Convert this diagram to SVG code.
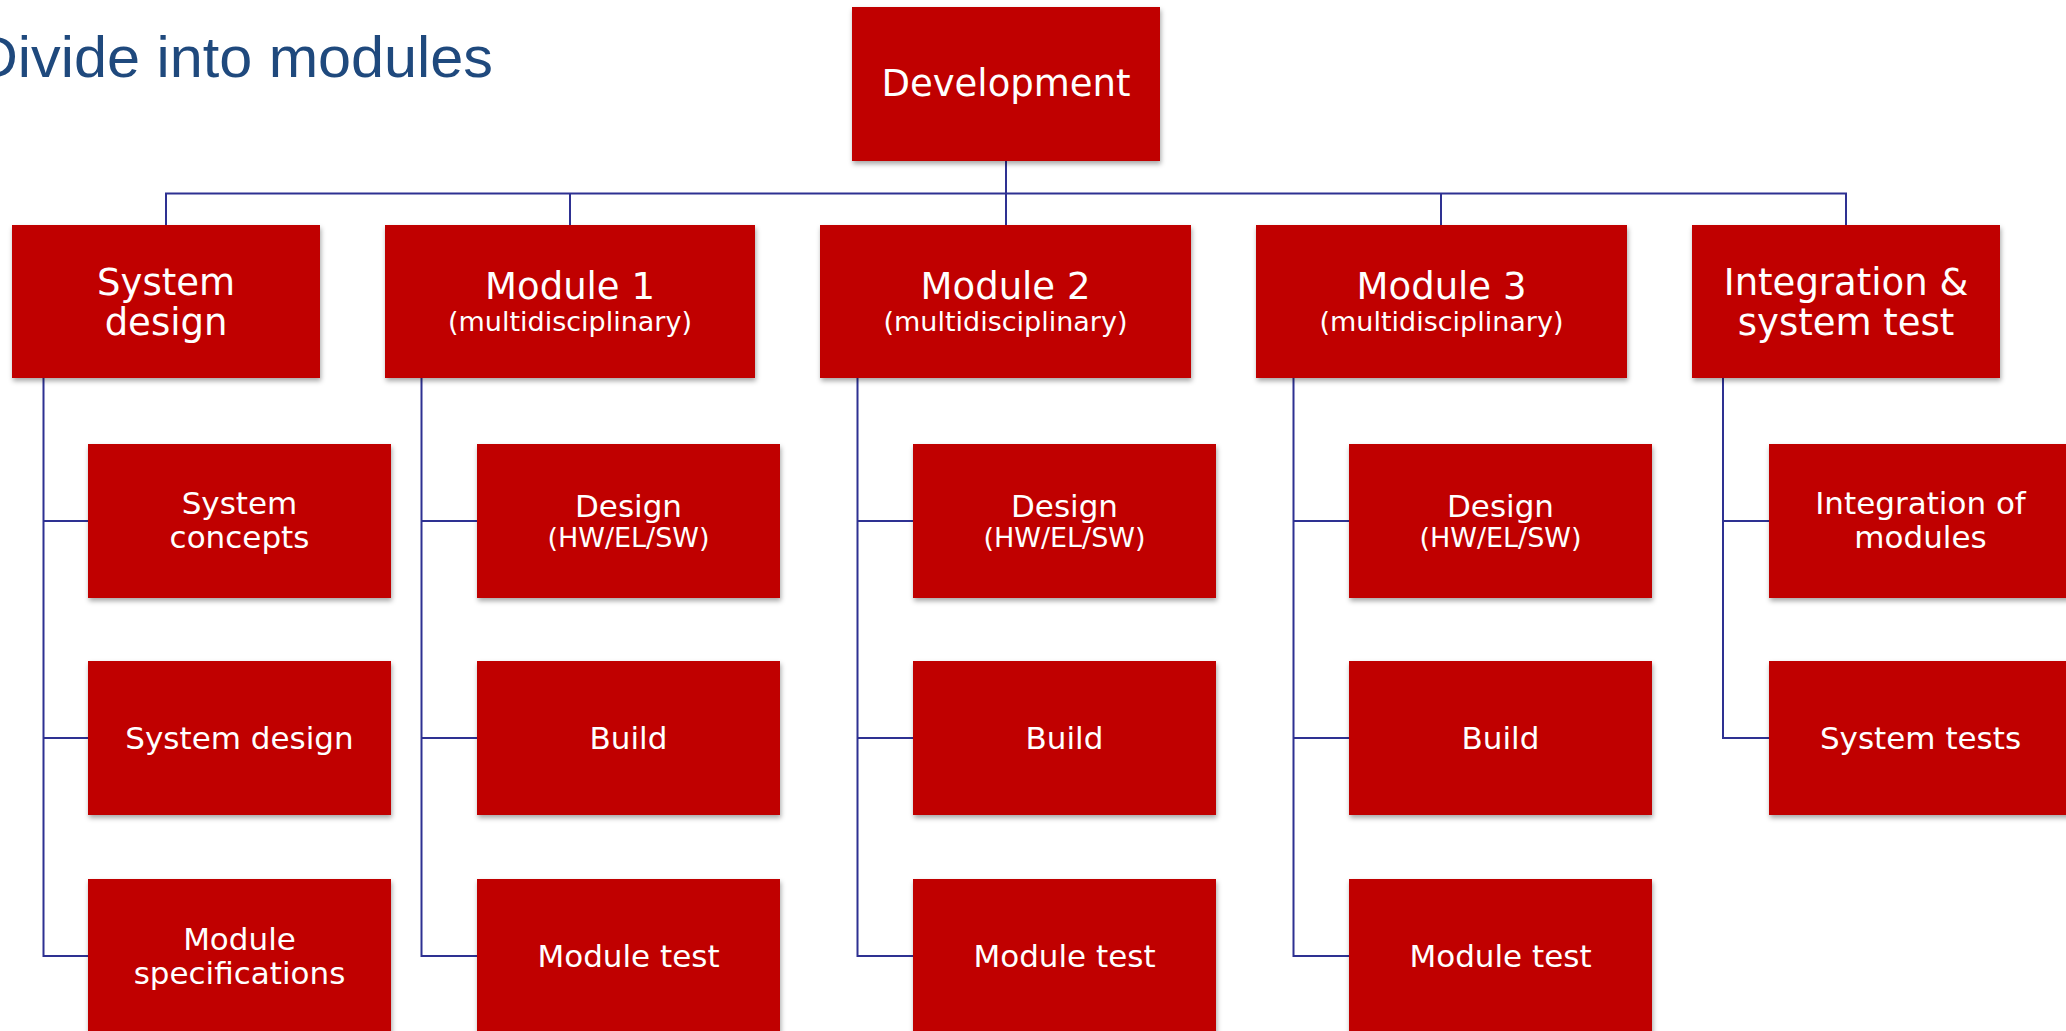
<svg xmlns="http://www.w3.org/2000/svg" width="2066" height="1031" viewBox="0 0 2066 1031">
<style>
.box{fill:#C00000;filter:url(#sh)}
.t{fill:#FFFFFF;font-family:"DejaVu Sans","Verdana",sans-serif;text-anchor:middle}
.l2{font-size:37px}
.l3{font-size:31px}
.sub{font-size:27px}
.conn{stroke:#2E3192;stroke-width:2;fill:none}
.title{fill:#1F497D;font-family:"Liberation Sans","Arial",sans-serif;font-size:58px}
</style>
<defs>
<filter id="sh" x="-10%" y="-10%" width="125%" height="130%">
<feDropShadow dx="1" dy="3" stdDeviation="2.5" flood-color="#000000" flood-opacity="0.35"/>
</filter>
</defs>
<rect width="2066" height="1031" fill="#FFFFFF"/>
<text class="title" x="-25" y="77" textLength="518" lengthAdjust="spacingAndGlyphs">Divide into modules</text>

<g id="connectors">
<path class="conn" d="M1006,161V193.5M166,225V193.5H1846V225M570,193.5V225M1006,193.5V225M1441,193.5V225"/>
<path class="conn" d="M43.5,378V956H88M43.5,521H88M43.5,738H88"/>
<path class="conn" d="M421.5,378V956H477M421.5,521H477M421.5,738H477"/>
<path class="conn" d="M857.5,378V956H913M857.5,521H913M857.5,738H913"/>
<path class="conn" d="M1293.5,378V956H1349M1293.5,521H1349M1293.5,738H1349"/>
<path class="conn" d="M1723,378V738H1769M1723,521H1769"/>
</g>

<g id="development">
<rect class="box" x="852" y="7" width="308" height="154"/>
<text class="t l2" x="1006" y="96">Development</text>
</g>

<g id="system-design">
<rect class="box" x="12" y="225" width="308" height="153"/>
<text class="t l2" x="166" y="295">System</text>
<text class="t l2" x="166" y="335">design</text>
</g>
<g id="module-1">
<rect class="box" x="385" y="225" width="370" height="153"/>
<text class="t l2" x="570" y="299">Module 1</text>
<text class="t sub" x="570" y="331">(multidisciplinary)</text>
</g>
<g id="module-2">
<rect class="box" x="820" y="225" width="371" height="153"/>
<text class="t l2" x="1005.5" y="299">Module 2</text>
<text class="t sub" x="1005.5" y="331">(multidisciplinary)</text>
</g>
<g id="module-3">
<rect class="box" x="1256" y="225" width="371" height="153"/>
<text class="t l2" x="1441.5" y="299">Module 3</text>
<text class="t sub" x="1441.5" y="331">(multidisciplinary)</text>
</g>
<g id="integration">
<rect class="box" x="1692" y="225" width="308" height="153"/>
<text class="t l2" x="1846" y="295">Integration &amp;</text>
<text class="t l2" x="1846" y="335">system test</text>
</g>

<g id="system-concepts">
<rect class="box" x="88" y="444" width="303" height="154"/>
<text class="t l3" x="239.5" y="514">System</text>
<text class="t l3" x="239.5" y="548">concepts</text>
</g>
<g id="system-design-2">
<rect class="box" x="88" y="661" width="303" height="154"/>
<text class="t l3" x="239.5" y="749">System design</text>
</g>
<g id="module-specifications">
<rect class="box" x="88" y="879" width="303" height="154"/>
<text class="t l3" x="239.5" y="950">Module</text>
<text class="t l3" x="239.5" y="984">specifications</text>
</g>

<g id="m1-design">
<rect class="box" x="477" y="444" width="303" height="154"/>
<text class="t l3" x="628.5" y="517">Design</text>
<text class="t sub" x="628.5" y="547">(HW/EL/SW)</text>
</g>
<g id="m1-build">
<rect class="box" x="477" y="661" width="303" height="154"/>
<text class="t l3" x="628.5" y="749">Build</text>
</g>
<g id="m1-test">
<rect class="box" x="477" y="879" width="303" height="154"/>
<text class="t l3" x="628.5" y="967">Module test</text>
</g>

<g id="m2-design">
<rect class="box" x="913" y="444" width="303" height="154"/>
<text class="t l3" x="1064.5" y="517">Design</text>
<text class="t sub" x="1064.5" y="547">(HW/EL/SW)</text>
</g>
<g id="m2-build">
<rect class="box" x="913" y="661" width="303" height="154"/>
<text class="t l3" x="1064.5" y="749">Build</text>
</g>
<g id="m2-test">
<rect class="box" x="913" y="879" width="303" height="154"/>
<text class="t l3" x="1064.5" y="967">Module test</text>
</g>

<g id="m3-design">
<rect class="box" x="1349" y="444" width="303" height="154"/>
<text class="t l3" x="1500.5" y="517">Design</text>
<text class="t sub" x="1500.5" y="547">(HW/EL/SW)</text>
</g>
<g id="m3-build">
<rect class="box" x="1349" y="661" width="303" height="154"/>
<text class="t l3" x="1500.5" y="749">Build</text>
</g>
<g id="m3-test">
<rect class="box" x="1349" y="879" width="303" height="154"/>
<text class="t l3" x="1500.5" y="967">Module test</text>
</g>

<g id="integration-of-modules">
<rect class="box" x="1769" y="444" width="303" height="154"/>
<text class="t l3" x="1920.5" y="514">Integration of</text>
<text class="t l3" x="1920.5" y="548">modules</text>
</g>
<g id="system-tests">
<rect class="box" x="1769" y="661" width="303" height="154"/>
<text class="t l3" x="1920.5" y="749">System tests</text>
</g>
</svg>
